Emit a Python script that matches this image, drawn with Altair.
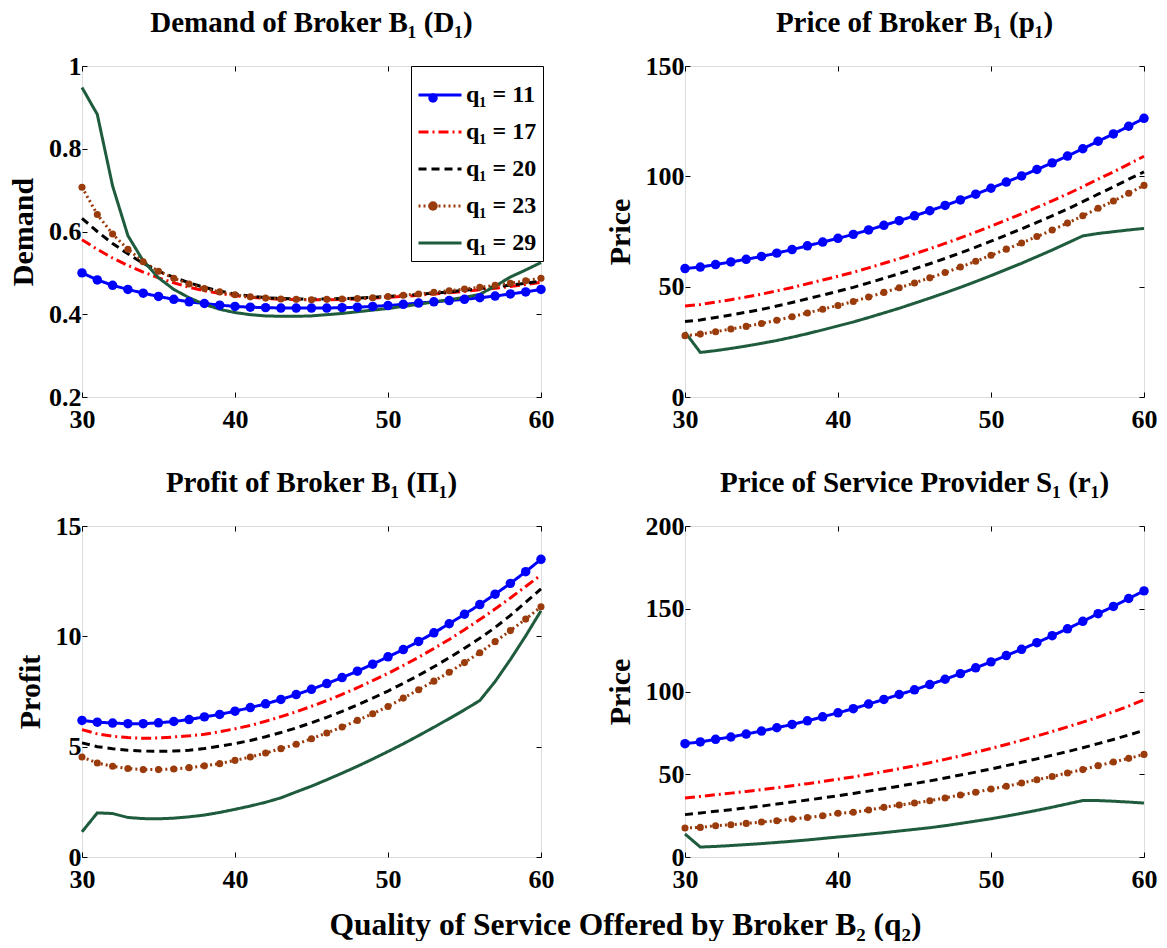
import altair as alt
import pandas as pd

FONT = "Liberation Serif"

q2 = list(range(30, 61))
series = ["q₁ = 11", "q₁ = 17", "q₁ = 20", "q₁ = 23", "q₁ = 29"]
marker_keys = ["dot 11", "dot 17", "dot 20", "dot 23", "dot 29"]
colors = ["#0000ff", "#ff0000", "#000000", "#9a3b0c", "#1f5b3d"]
marker_fill = ["#0000ff", "transparent", "transparent", "#9a3b0c", "transparent"]
dashes = [[1, 0], [10, 4, 2, 4], [8, 5], [2, 3], [1, 0]]
widths = [3, 3, 3, 1.5, 3.5]

# Demand of Broker B1
demand_11 = [0.500, 0.483, 0.470, 0.460, 0.451, 0.443, 0.436, 0.430, 0.426, 0.422, 0.419, 0.417, 0.416, 0.415, 0.415, 0.415,
             0.415, 0.416, 0.417, 0.419, 0.421, 0.424, 0.427, 0.430, 0.433, 0.436, 0.440, 0.444, 0.449, 0.454, 0.460]
demand_17 = [0.580, 0.557, 0.536, 0.518, 0.502, 0.488, 0.476, 0.465, 0.457, 0.450, 0.445, 0.441, 0.438, 0.436, 0.435, 0.435,
             0.435, 0.436, 0.437, 0.439, 0.441, 0.443, 0.446, 0.449, 0.452, 0.455, 0.459, 0.463, 0.467, 0.472, 0.477]
demand_20 = [0.632, 0.600, 0.571, 0.546, 0.523, 0.504, 0.489, 0.476, 0.465, 0.456, 0.449, 0.444, 0.440, 0.438, 0.437, 0.437,
             0.437, 0.438, 0.439, 0.441, 0.443, 0.445, 0.448, 0.451, 0.454, 0.458, 0.462, 0.466, 0.470, 0.475, 0.480]
demand_23 = [0.707, 0.641, 0.594, 0.557, 0.527, 0.504, 0.487, 0.473, 0.462, 0.454, 0.447, 0.442, 0.439, 0.437, 0.436, 0.435,
             0.436, 0.437, 0.438, 0.440, 0.443, 0.446, 0.449, 0.453, 0.457, 0.461, 0.465, 0.470, 0.475, 0.481, 0.487]
demand_29 = [0.948, 0.883, 0.710, 0.590, 0.529, 0.488, 0.460, 0.440, 0.424, 0.412, 0.404, 0.399, 0.396, 0.395, 0.395, 0.396,
             0.399, 0.402, 0.406, 0.410, 0.414, 0.419, 0.424, 0.430, 0.435, 0.441, 0.448, 0.468, 0.490, 0.507, 0.525]

# Price of Broker B1
price_b_11 = [58.2, 58.9, 60.0, 61.2, 62.4, 63.7, 65.2, 66.8, 68.5, 70.2, 71.9, 73.7, 75.7, 77.8, 79.9, 82.1,
              84.4, 86.8, 89.3, 91.9, 94.6, 97.4, 100.2, 103.1, 106.1, 109.2, 112.5, 115.9, 119.2, 122.7, 126.3]
price_b_17 = [41.2, 41.9, 43.0, 44.1, 45.3, 46.6, 48.1, 49.6, 51.3, 53.0, 54.7, 56.5, 58.5, 60.6, 62.7, 64.9,
              67.2, 69.6, 72.1, 74.7, 77.4, 80.2, 83.0, 85.9, 88.9, 92.0, 95.3, 98.7, 102.0, 105.5, 109.1]
price_b_20 = [34.2, 34.9, 36.0, 37.2, 38.4, 39.7, 41.2, 42.8, 44.5, 46.2, 47.9, 49.7, 51.7, 53.8, 55.9, 58.1,
              60.4, 62.8, 65.3, 67.9, 70.6, 73.4, 76.2, 79.1, 82.1, 85.2, 88.5, 91.9, 95.2, 98.7, 102.0]
price_b_23 = [27.8, 28.5, 29.6, 30.8, 32.0, 33.3, 34.8, 36.4, 38.1, 39.8, 41.5, 43.3, 45.3, 47.4, 49.5, 51.7,
              54.0, 56.4, 58.9, 61.5, 64.2, 67.0, 69.8, 72.7, 75.7, 78.8, 82.1, 85.5, 88.8, 92.3, 95.9]
price_b_29 = [29.4, 20.2, 21.0, 22.0, 23.1, 24.3, 25.6, 27.1, 28.7, 30.4, 32.2, 34.0, 36.0, 38.1, 40.2, 42.5,
              44.8, 47.2, 49.7, 52.3, 55.0, 57.8, 60.6, 63.6, 66.6, 69.8, 73.0, 74.1, 74.9, 75.7, 76.4]

# Profit of Broker B1
profit_11 = [6.19, 6.11, 6.07, 6.04, 6.04, 6.08, 6.14, 6.23, 6.35, 6.46, 6.61, 6.77, 6.94, 7.14, 7.36, 7.60,
             7.86, 8.13, 8.42, 8.74, 9.07, 9.40, 9.77, 10.16, 10.57, 11.00, 11.44, 11.91, 12.40, 12.93, 13.49]
profit_17 = [5.77, 5.58, 5.47, 5.41, 5.38, 5.39, 5.44, 5.49, 5.56, 5.68, 5.81, 5.96, 6.15, 6.36, 6.58, 6.83,
             7.09, 7.37, 7.67, 7.99, 8.32, 8.68, 9.05, 9.45, 9.86, 10.30, 10.76, 11.24, 11.74, 12.26, 12.78]
profit_20 = [5.17, 5.00, 4.91, 4.84, 4.80, 4.79, 4.80, 4.84, 4.92, 5.02, 5.14, 5.28, 5.45, 5.64, 5.85, 6.08,
             6.33, 6.60, 6.89, 7.20, 7.52, 7.87, 8.23, 8.62, 9.03, 9.46, 9.91, 10.40, 10.95, 11.55, 12.15]
profit_23 = [4.53, 4.26, 4.11, 4.01, 3.96, 3.96, 3.99, 4.05, 4.13, 4.23, 4.38, 4.53, 4.71, 4.91, 5.11, 5.36,
             5.62, 5.89, 6.19, 6.49, 6.82, 7.20, 7.58, 7.97, 8.37, 8.81, 9.26, 9.76, 10.26, 10.78, 11.34]
profit_29 = [1.14, 2.00, 1.97, 1.79, 1.74, 1.73, 1.76, 1.82, 1.90, 2.02, 2.16, 2.31, 2.48, 2.68, 2.95, 3.21,
             3.50, 3.80, 4.11, 4.44, 4.78, 5.13, 5.50, 5.88, 6.27, 6.67, 7.09, 7.95, 8.95, 10.02, 11.16]

# Price of Service Provider S1
price_s_11 = [68.5, 69.5, 71.1, 72.5, 74.3, 76.1, 78.1, 80.1, 82.3, 84.7, 87.1, 89.6, 92.4, 95.2, 98.2, 101.0,
              104.2, 107.4, 110.8, 114.3, 117.9, 121.7, 125.5, 129.5, 133.7, 137.9, 142.4, 147.0, 151.4, 156.2, 160.8]
price_s_17 = [35.6, 36.6, 37.6, 38.6, 39.6, 40.7, 41.9, 43.1, 44.3, 45.6, 47.0, 48.4, 50.0, 51.6, 53.3, 55.1,
              57.0, 59.0, 61.1, 63.3, 65.6, 68.0, 70.5, 73.1, 75.8, 78.6, 81.5, 84.5, 87.7, 91.2, 95.0]
price_s_20 = [25.6, 26.6, 27.6, 28.6, 29.7, 30.8, 32.0, 33.2, 34.4, 35.7, 37.0, 38.4, 39.8, 41.3, 42.8, 44.4,
              46.0, 47.7, 49.5, 51.3, 53.2, 55.2, 57.2, 59.3, 61.5, 63.7, 66.0, 68.5, 71.0, 73.7, 76.5]
price_s_23 = [17.5, 17.9, 18.9, 19.5, 20.3, 21.1, 21.9, 22.9, 23.9, 24.9, 26.4, 27.0, 28.4, 30.0, 31.4, 32.6,
              34.0, 35.7, 37.5, 39.1, 41.1, 42.7, 44.7, 46.7, 48.6, 50.8, 52.8, 55.2, 57.4, 59.6, 62.0]
price_s_29 = [13.9, 6.0, 6.4, 6.9, 7.5, 8.1, 8.8, 9.5, 10.3, 11.2, 12.1, 12.9, 13.8, 14.7, 15.7, 16.7,
              17.7, 18.9, 20.3, 21.7, 23.1, 24.7, 26.4, 28.2, 30.1, 32.1, 34.1, 34.1, 33.7, 33.2, 32.6]

x_ticks = [30, 40, 50, 60]
x_title = "Quality of Service Offered by Broker B₂ (q₂)"


def frame(cols):
    rows = []
    for name, key, vals in zip(series, marker_keys, cols):
        for x, v in zip(q2, vals):
            rows.append({"q2": x, "series": name, "marker": key, "value": v})
    return pd.DataFrame(rows)


def panel(cols, title, ytitle, ydomain, yticks, legend=False, xtitle=False):
    df = frame(cols)
    xscale = alt.Scale(domain=[30, 60], nice=False, zero=False)
    yscale = alt.Scale(domain=ydomain, nice=False, zero=False)
    if legend:
        leg = alt.Legend(title=None, orient="none", legendX=329, legendY=0,
                         fillColor="white", strokeColor="black", padding=6,
                         symbolType="stroke", symbolSize=1849, symbolStrokeWidth=3,
                         labelFont=FONT, labelFontSize=24, labelFontWeight="bold",
                         labelColor="black", rowPadding=2, labelOffset=3, labelLimit=0)
        dot_leg = alt.Legend(title=None, orient="none", legendX=329, legendY=21, padding=6,
                             symbolType="circle", symbolSize=90, symbolStrokeWidth=0,
                             symbolOffset=11, labelFontSize=1, labelExpr="''",
                             rowPadding=26, labelOffset=0, labelLimit=0)
    else:
        leg = None
        dot_leg = None
    xkw = dict(orient="bottom", values=x_ticks, offset=-5, tickSize=5, tickWidth=1,
               tickColor="black", domain=False, grid=False, labelFont=FONT,
               labelFontSize=26, labelFontWeight="bold", labelColor="black",
               labelPadding=9, labelFlush=False, labelOverlap=False)
    if xtitle:
        bottom_axis = alt.Axis(title=x_title, titleFont=FONT, titleFontSize=31.5, titleFontWeight="bold",
                               titleColor="black", titleX=543, titleY=82, titleAlign="center",
                               titleBaseline="alphabetic", titleLimit=0, **xkw)
    else:
        bottom_axis = alt.Axis(title=None, **xkw)
    left_axis = alt.Axis(orient="left", values=yticks, offset=-5, tickSize=5, tickWidth=1,
                         tickColor="black", domain=False, grid=False, labelFont=FONT,
                         labelFontSize=26, labelFontWeight="bold", labelColor="black",
                         labelPadding=1, labelOverlap=False, labelExpr="'' + datum.value",
                         title=ytitle, titleFont=FONT, titleFontSize=30, titleFontWeight="bold",
                         titleColor="black", titlePadding=10)
    top_axis = alt.Axis(orient="top", values=x_ticks, offset=-5, tickSize=5, tickWidth=1,
                        tickColor="black", domain=False, grid=False, labels=False, title=None)
    right_axis = alt.Axis(orient="right", values=yticks, offset=-5, tickSize=5, tickWidth=1,
                          tickColor="black", domain=False, grid=False, labels=False, title=None)

    lines = alt.Chart(df).mark_line(clip=False).encode(
        x=alt.X("q2:Q", scale=xscale, axis=bottom_axis),
        y=alt.Y("value:Q", scale=yscale, axis=left_axis),
        color=alt.Color("series:N", scale=alt.Scale(domain=series, range=colors), legend=leg),
        strokeDash=alt.StrokeDash("series:N", scale=alt.Scale(domain=series, range=dashes), legend=leg),
        strokeWidth=alt.StrokeWidth("series:N", scale=alt.Scale(domain=series, range=widths), legend=None),
    )
    pts = alt.Chart(df).transform_filter(
        alt.FieldOneOfPredicate(field="series", oneOf=[series[0], series[3]])
    ).mark_circle(opacity=1).encode(
        x=alt.X("q2:Q", scale=xscale, axis=top_axis),
        y=alt.Y("value:Q", scale=yscale, axis=right_axis),
        fill=alt.Fill("marker:N", scale=alt.Scale(domain=marker_keys, range=marker_fill), legend=dot_leg),
        size=alt.condition(alt.datum.series == series[0], alt.value(90), alt.value(50)),
    )
    return alt.layer(lines, pts).resolve_axis(x="independent", y="independent").properties(
        width=459, height=331,
        title=alt.TitleParams(title, font=FONT, fontSize=29, fontWeight="bold", color="black",
                              anchor="middle", baseline="alphabetic", offset=-8),
    )


tl = panel([demand_11, demand_17, demand_20, demand_23, demand_29],
           "Demand of Broker B₁ (D₁)", "Demand", [0.2, 1.0], [0.2, 0.4, 0.6, 0.8, 1.0], legend=True)
tr = panel([price_b_11, price_b_17, price_b_20, price_b_23, price_b_29],
           "Price of Broker B₁ (p₁)", "Price", [0, 150], [0, 50, 100, 150])
bl = panel([profit_11, profit_17, profit_20, profit_23, profit_29],
           "Profit of Broker B₁ (Π₁)", "Profit", [0, 15], [0, 5, 10, 15], xtitle=True)
br = panel([price_s_11, price_s_17, price_s_20, price_s_23, price_s_29],
           "Price of Service Provider S₁ (r₁)", "Price", [0, 200], [0, 50, 100, 150, 200])

chart = alt.concat(
    tl, tr, bl, br, columns=2, spacing={"row": 129, "column": 144}, bounds="flush",
).properties(
    padding={"left": 0, "top": 0, "right": 0, "bottom": 0},
).configure_view(stroke="black", strokeWidth=1.5).configure(background="white")

chart.save("out.html", embed_options={"renderer": "svg", "actions": False})
